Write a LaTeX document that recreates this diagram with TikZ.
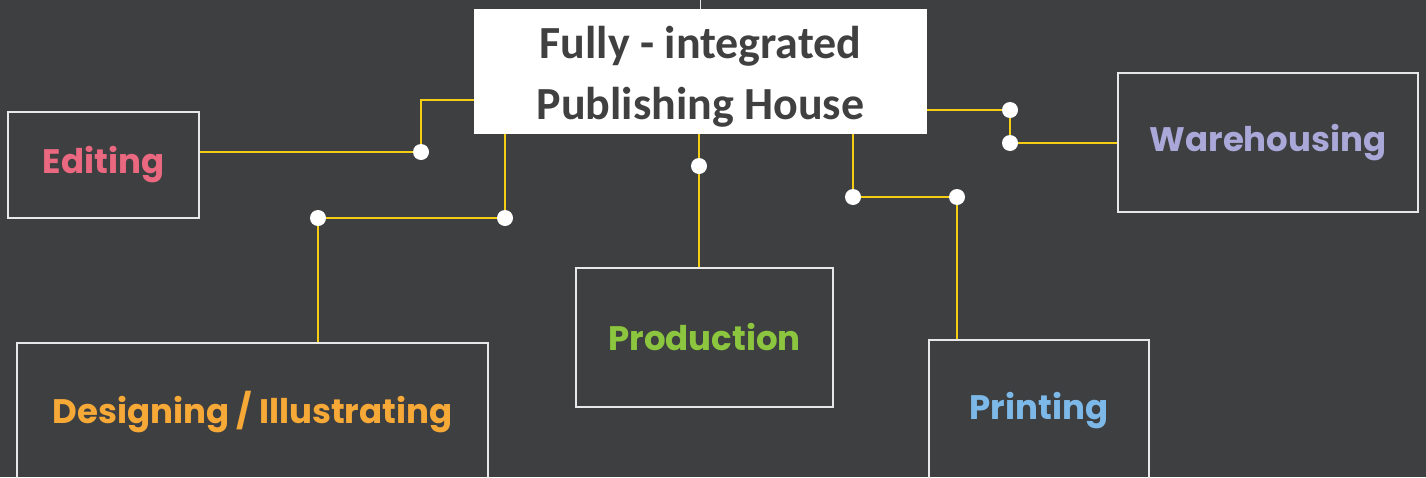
\documentclass[tikz,border=0pt]{standalone}
\usepackage{fontspec}
\newfontfamily\headfont{Carlito}
\newfontfamily\labelfont{Poppins}
\definecolor{bgdark}{RGB}{62,63,65}
\definecolor{linkyellow}{RGB}{245,205,20}
\definecolor{boxline}{RGB}{232,232,232}
\definecolor{headtext}{RGB}{64,64,64}
\definecolor{cEdit}{RGB}{234,104,128}
\definecolor{cDesign}{RGB}{247,169,55}
\definecolor{cProd}{RGB}{140,198,62}
\definecolor{cPrint}{RGB}{125,185,232}
\definecolor{cWare}{RGB}{169,168,216}
\tikzset{
  stagebox/.style={draw=boxline, line width=2.8pt, fill=none, inner sep=0pt,
    font=\labelfont\bfseries\fontsize{34}{40}\selectfont},
  hubbox/.style={fill=white, inner sep=0pt, text=headtext,
    font=\headfont\bfseries\fontsize{46}{61}\selectfont},
  link/.style={draw=linkyellow, line width=2.8pt},
}
\begin{document}
\begin{tikzpicture}[x=1pt,y=-1pt]
\fill[bgdark] (0,0) rectangle (1426,477);
\useasboundingbox (0,0) rectangle (1426,477);
\begin{scope}
\clip (0,0) rectangle (1426,477);

% central node
\node[hubbox, minimum width=453pt, minimum height=125pt] (hub) at (700.5,71.5)
  {\raisebox{-5pt}[\height][\depth]{\begin{tabular}{@{}c@{}}Fully - integrated\\Publishing House\end{tabular}}};
\draw[boxline, line width=1.5pt] (hub.north) -- (hub.north |- 0,0);

% stages
\node[stagebox, text=cEdit, minimum width=191pt, minimum height=106pt] (edit) at (103.5,165) {Editing};
\node[stagebox, text=cDesign, minimum width=471pt, minimum height=139pt] (design) at (252.5,412.5) {Designing / Illustrating};
\node[stagebox, text=cProd, minimum width=257pt, minimum height=139pt] (prod) at (704.5,337.5) {Production};
\node[stagebox, text=cPrint, minimum width=220pt, minimum height=142pt] (print) at (1039,411) {Printing};
\node[stagebox, text=cWare, minimum width=300pt, minimum height=139pt] (ware) at (1268,142.5) {Warehousing};

% junction points
\coordinate (d1) at (421,152);
\coordinate (d2) at (505,218);
\coordinate (d3) at (318,218);
\coordinate (d4) at (699,166);
\coordinate (d5) at (853,197);
\coordinate (d6) at (957,197);
\coordinate (d7) at (1010,110);
\coordinate (d8) at (1010,143);
\coordinate (eIn) at (421,100);

% connectors
\draw[link] (edit.east |- d1) -- (d1) -- (eIn) -- (eIn -| hub.west);
\draw[link] (d2 |- hub.south) -- (d2) -- (d3) -- (d3 |- design.north);
\draw[link] (d4 |- hub.south) -- (d4 |- prod.north);
\draw[link] (d5 |- hub.south) -- (d5) -- (d6) -- (d6 |- print.north);
\draw[link] (hub.east |- d7) -- (d7) -- (d8) -- (d8 -| ware.west);

% dots on top of the connectors
\foreach \p in {d1,d2,d3,d4,d5,d6,d7,d8}
  \fill[white] (\p) circle (8pt);
\end{scope}
\end{tikzpicture}
\end{document}
